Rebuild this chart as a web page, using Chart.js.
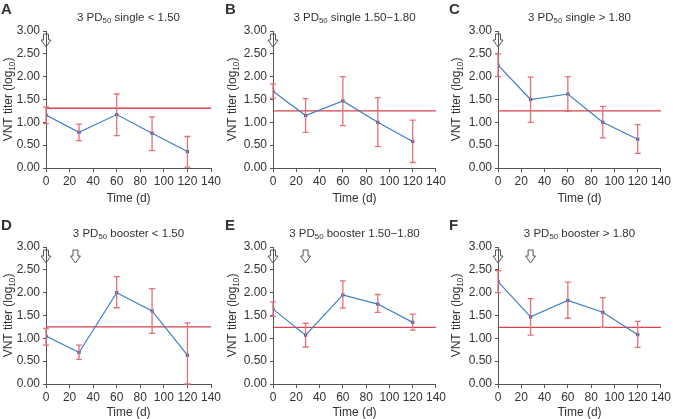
<!DOCTYPE html>
<html><head><meta charset="utf-8">
<script src="https://cdn.jsdelivr.net/npm/chart.js@4"></script>
<style>
body{margin:0;background:#fff;width:673px;height:419px;overflow:hidden;position:relative;font-family:"Liberation Sans",Arial,sans-serif}
canvas{position:absolute;left:0;top:0}
.wrap{position:absolute}
</style></head><body>
<div class="wrap" style="left:0;top:0;width:224px;height:209px"><canvas id="c0" width="224" height="209"></canvas></div>
<div class="wrap" style="left:224px;top:0;width:224px;height:209px"><canvas id="c1" width="224" height="209"></canvas></div>
<div class="wrap" style="left:448px;top:0;width:225px;height:209px"><canvas id="c2" width="225" height="209"></canvas></div>
<div class="wrap" style="left:0;top:209px;width:224px;height:213px"><canvas id="c3" width="224" height="213"></canvas></div>
<div class="wrap" style="left:224px;top:209px;width:224px;height:213px"><canvas id="c4" width="224" height="213"></canvas></div>
<div class="wrap" style="left:448px;top:209px;width:225px;height:213px"><canvas id="c5" width="225" height="213"></canvas></div>
<script>
// ---- data ----
const days = [0, 28, 60, 90, 120];
const xTicks = [0, 20, 40, 60, 80, 100, 120, 140];
const yTicks = [0, 0.5, 1.0, 1.5, 2.0, 2.5, 3.0];
const letters = ["A", "B", "C", "D", "E", "F"];
const titleGroups = ["single < 1.50", "single 1.50\u22121.80", "single > 1.80", "booster < 1.50", "booster 1.50\u22121.80", "booster > 1.80"];

const meanA = [1.16, 0.78, 1.17, 0.76, 0.36];
const lowA  = [0.97, 0.60, 0.71, 0.38, 0.02];
const highA = [1.34, 0.96, 1.62, 1.12, 0.69];

const meanB = [1.68, 1.15, 1.47, 1.00, 0.58];
const lowB  = [1.53, 0.78, 0.93, 0.47, 0.12];
const highB = [1.84, 1.52, 2.00, 1.54, 1.05];

const meanC = [2.25, 1.50, 1.62, 1.00, 0.63];
const lowC  = [2.00, 1.00, 1.24, 0.66, 0.32];
const highC = [2.50, 1.99, 2.00, 1.35, 0.95];

const meanD = [1.05, 0.69, 2.00, 1.60, 0.63];
const lowD  = [0.85, 0.54, 1.67, 1.11, 0.00];
const highD = [1.22, 0.85, 2.35, 2.09, 1.34];

const meanE = [1.64, 1.07, 1.95, 1.75, 1.35];
const lowE  = [1.48, 0.81, 1.66, 1.57, 1.18];
const highE = [1.80, 1.33, 2.26, 1.96, 1.53];

const meanF = [2.24, 1.47, 1.83, 1.57, 1.08];
const lowF  = [2.00, 1.07, 1.44, 1.24, 0.80];
const highF = [2.48, 1.87, 2.23, 1.89, 1.37];

const cutoffs = [1.31, 1.25, 1.25, 1.25, 1.24, 1.24];
const arrowsSingle = [0];
const arrowsD = [0, 25];
const arrowsBooster = [0, 28];

const means = [meanA, meanB, meanC, meanD, meanE, meanF];
const lows = [lowA, lowB, lowC, lowD, lowE, lowF];
const highs = [highA, highB, highC, highD, highE, highF];
const arrowSets = [arrowsSingle, arrowsSingle, arrowsSingle, arrowsD, arrowsBooster, arrowsBooster];

// ---- layout (pixels inside each canvas) ----
const TXT = "#333";
const AX = "#555";
const FONT = '"Liberation Sans", Arial, sans-serif';
const layouts = [
  {left: 46, right: 211, top: 31, bottom: 168, w: 224, h: 209, tb: 3},
  {left: 49, right: 214, top: 31, bottom: 168, w: 224, h: 209, tb: 3},
  {left: 50, right: 215, top: 31, bottom: 168, w: 225, h: 209, tb: 3},
  {left: 46, right: 211, top: 38, bottom: 175, w: 224, h: 213, tb: 2},
  {left: 49, right: 214, top: 38, bottom: 175, w: 224, h: 213, tb: 2},
  {left: 50, right: 215, top: 38, bottom: 175, w: 225, h: 213, tb: 2}
];

function drawRich(ctx, parts, x, y, size) {
  let total = 0;
  const widths = parts.map(p => {
    ctx.font = (p[1] ? size * 0.68 : size) + "px " + FONT;
    const w = ctx.measureText(p[0]).width;
    total += w; return w;
  });
  let cx = x - total / 2;
  ctx.textAlign = "left";
  parts.forEach((p, i) => {
    ctx.font = (p[1] ? size * 0.68 : size) + "px " + FONT;
    ctx.fillText(p[0], cx, p[1] ? y + size * 0.28 : y);
    cx += widths[i];
  });
}

const decor = {
  id: "decor",
  afterDatasetsDraw(chart, args, opts) {
    const ctx = chart.ctx;
    const xs = chart.scales.x, ys = chart.scales.y;
    const i = opts.idx;
    ctx.save();
    ctx.strokeStyle = "#e4707a";
    ctx.lineWidth = 1.3;
    days.forEach((d, k) => {
      const px = xs.getPixelForValue(d);
      const pl = ys.getPixelForValue(lows[i][k]);
      const ph = ys.getPixelForValue(highs[i][k]);
      ctx.beginPath();
      ctx.moveTo(px, pl); ctx.lineTo(px, ph);
      ctx.moveTo(px - 3, pl); ctx.lineTo(px + 3, pl);
      ctx.moveTo(px - 3, ph); ctx.lineTo(px + 3, ph);
      ctx.stroke();
    });
    ctx.strokeStyle = "#555";
    ctx.lineWidth = 1;
    arrowSets[i].forEach(a => {
      const px = xs.getPixelForValue(a);
      const t = ys.getPixelForValue(3.0) + 3;
      ctx.beginPath();
      ctx.moveTo(px - 2.5, t);
      ctx.lineTo(px + 2.5, t);
      ctx.lineTo(px + 2.5, t + 6);
      ctx.lineTo(px + 5, t + 6);
      ctx.lineTo(px, t + 13);
      ctx.lineTo(px - 5, t + 6);
      ctx.lineTo(px - 2.5, t + 6);
      ctx.closePath();
      if (a !== 0) { ctx.fillStyle = "#fff"; ctx.fill(); }
      ctx.stroke();
    });
    ctx.restore();
  },
  afterDraw(chart, args, opts) {
    const ctx = chart.ctx;
    const ca = chart.chartArea;
    const i = opts.idx;
    ctx.save();
    ctx.fillStyle = TXT;
    ctx.textBaseline = "middle";
    ctx.font = "bold 15px " + FONT;
    ctx.textAlign = "left";
    ctx.fillText(letters[i], 1, ca.top - 21);
    const cx = (ca.left + ca.right) / 2;
    drawRich(ctx, [["3 PD", false], ["50", true], [" " + titleGroups[i], false]], cx, ca.top - 13, 11.5);
    ctx.translate(9, (ca.top + ca.bottom) / 2);
    ctx.rotate(-Math.PI / 2);
    drawRich(ctx, [["VNT titer (log", false], ["10", true], [")", false]], 0, 0, 12);
    ctx.restore();
  }
};

for (let i = 0; i < 6; i++) {
  const L = layouts[i];
  const cv = document.getElementById("c" + i);
  new Chart(cv, {
    type: "line",
    data: {
      datasets: [
        {
          data: days.map((d, k) => ({x: d, y: means[i][k]})),
          borderColor: "#3f7fc4",
          backgroundColor: "#2d63a8",
          borderWidth: 1.2,
          pointStyle: "rect",
          pointRadius: 2.3,
          pointBorderWidth: 0,
          tension: 0,
          order: 1
        },
        {
          data: [{x: 0, y: cutoffs[i]}, {x: 140, y: cutoffs[i]}],
          borderColor: "#d8434c",
          borderWidth: 1.4,
          pointRadius: 0,
          order: 2
        }
      ]
    },
    options: {
      responsive: false,
      animation: false,
      devicePixelRatio: 1,
      layout: {padding: {left: 0, top: L.top, right: L.w - L.right, bottom: 0}},
      plugins: {legend: {display: false}, tooltip: {enabled: false}, decor: {idx: i}},
      scales: {
        x: {
          type: "linear", min: 0, max: 140,
          afterBuildTicks: s => { s.ticks = xTicks.map(v => ({value: v})); },
          ticks: {color: TXT, font: {size: 12, family: FONT}, padding: 2, maxRotation: 0},
          grid: {display: true, drawOnChartArea: false, drawTicks: true, tickLength: 4, color: AX},
          border: {display: true, color: AX, width: 1},
          title: {display: true, text: "Time (d)", color: TXT, font: {size: 12, family: FONT}, padding: {top: 3, bottom: L.tb}},
          afterFit: s => { s.height = L.h - L.bottom; }
        },
        y: {
          type: "linear", min: 0, max: 3,
          afterBuildTicks: s => { s.ticks = yTicks.map(v => ({value: v})); },
          ticks: {color: TXT, font: {size: 12, family: FONT}, padding: 3, callback: v => Number(v).toFixed(2)},
          grid: {display: true, drawOnChartArea: false, drawTicks: true, tickLength: 3, color: AX},
          border: {display: true, color: AX, width: 1},
          afterFit: s => { s.width = L.left; }
        }
      }
    },
    plugins: [decor]
  });
}
</script>
</body></html>
